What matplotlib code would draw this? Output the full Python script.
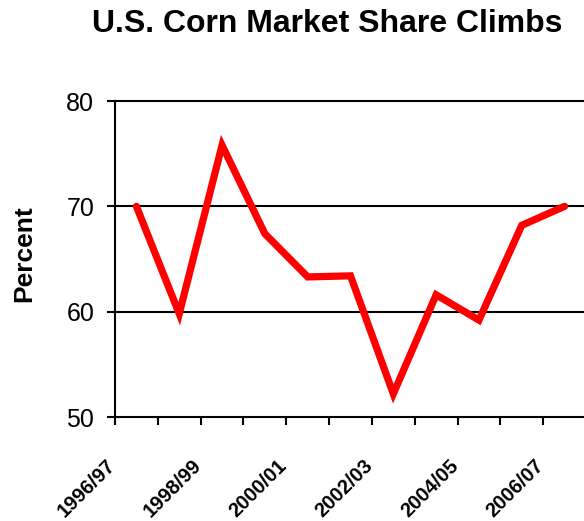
import matplotlib
matplotlib.use('Agg')
import matplotlib.pyplot as plt
import matplotlib.transforms as mtransforms

plt.rcParams['font.family'] = ['Liberation Sans', 'DejaVu Sans']

# 数据
years = ['1996/97', '1997/98', '1998/99', '1999/00', '2000/01', '2001/02',
         '2002/03', '2003/04', '2004/05', '2005/06', '2006/07']
share = [70.0, 59.8, 75.8, 67.4, 63.3, 63.4, 52.2, 61.6, 59.2, 68.2, 70.0]
yticks = [50, 60, 70, 80]

fig = plt.figure(figsize=(5.84, 5.21), dpi=100)
ax = fig.add_axes([115 / 584, 1 - 417 / 521, 471 / 584, 316 / 521])

x = list(range(len(years)))
ax.plot(x, share, color='#ff0000', linewidth=5.2,
        solid_capstyle='round', solid_joinstyle='miter', zorder=3)

ax.set_xlim(-0.5, len(years) - 0.5)
ax.set_ylim(50, 80)
ax.set_yticks(yticks)
for v in yticks[1:]:
    ax.axhline(v, color='black', linewidth=1.5, zorder=1, clip_on=False)

# 边框
ax.spines['top'].set_visible(False)
ax.spines['right'].set_visible(False)
for s in ['left', 'bottom']:
    ax.spines[s].set_linewidth(1.5)

# x 刻度: 主刻度在类别边界, 次刻度放标签
ax.set_xticks([i - 0.5 for i in range(len(years) + 1)])
ax.set_xticklabels([])
ax.set_xticks(x[::2], minor=True)
ax.set_xticklabels(years[::2], minor=True, rotation=45, ha='right', va='top',
                   fontsize=14.5, fontweight='bold')
ax.tick_params(axis='x', which='minor', length=0, pad=28)
ax.tick_params(axis='x', which='major', direction='out', length=6, width=1.5)
ax.tick_params(axis='y', direction='out', length=6, width=1.5,
               labelsize=18, pad=9)

offset = mtransforms.ScaledTranslation(-0.17, 0, fig.dpi_scale_trans)
for lab in ax.get_xticklabels(minor=True):
    lab.set_transform(lab.get_transform() + offset)

fig.text(327 / 584, 1 - 24 / 521, 'U.S. Corn Market Share Climbs',
         ha='center', va='center', fontsize=23, fontweight='bold')
fig.text(24 / 584, 1 - 254 / 521, 'Percent', rotation=90,
         ha='center', va='center', fontsize=19, fontweight='bold')

fig.savefig('out.png', dpi=100, facecolor='white')
